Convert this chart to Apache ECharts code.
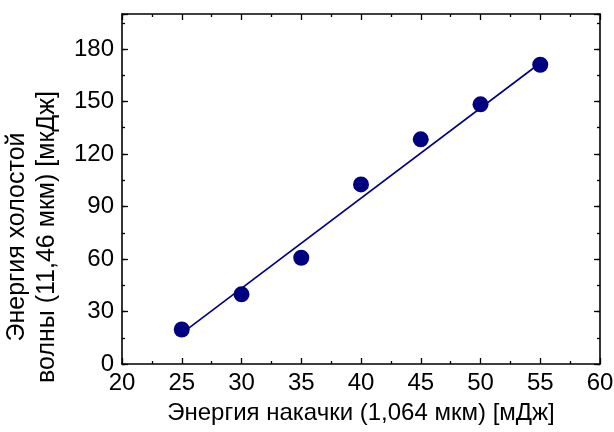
<!DOCTYPE html>
<html>
<head>
<meta charset="utf-8">
<script src="https://cdn.jsdelivr.net/npm/echarts@6/dist/echarts.min.js"></script>
<style>html,body{margin:0;padding:0;background:#fff;}#c{width:614px;height:432px;}</style>
</head>
<body>
<div id="c"></div>
<script>
var pumpEnergy = [25, 30, 35, 40, 45, 50, 55];
var idlerEnergy = [19.7, 39.8, 60.7, 102.6, 128.4, 148.4, 171];
var fitX = [25, 55];
var fitY = [17.5, 172];
var xTitle = 'Энергия накачки (1,064 мкм) [мДж]';
var yTitle = 'Энергия холостой\nволны (11,46 мкм) [мкДж]';

var FONT = 'Liberation Sans, Arial, sans-serif';
var C = '#000080';
var chart = echarts.init(document.getElementById('c'), null, {renderer: 'canvas'});

function xAx(pos, showLabel, name) {
  return {
    type: 'value', position: pos, min: 20, max: 60, interval: 5,
    gridIndex: 0,
    axisLine: {show: true, onZero: false, lineStyle: {color: '#000', width: 1.6}},
    axisTick: {show: true, inside: true, length: 6, lineStyle: {color: '#000', width: 1.3}},
    minorTick: {show: true, splitNumber: 2, length: 3, lineStyle: {color: '#000', width: 1.3}},
    splitLine: {show: false},
    axisLabel: {show: showLabel, color: '#000', fontSize: 24, fontFamily: FONT, margin: 7},
    name: name || '', nameLocation: 'middle', nameGap: 37,
    nameTextStyle: {color: '#000', fontSize: 24, fontFamily: FONT}
  };
}
function yAx(pos, interval, len, showLabel, showLine, name) {
  return {
    type: 'value', position: pos, min: 0, max: 200, interval: interval,
    gridIndex: 0,
    axisLine: {show: showLine, onZero: false, lineStyle: {color: '#000', width: 1.6}},
    axisTick: {show: true, inside: true, length: len, lineStyle: {color: '#000', width: 1.3}},
    splitLine: {show: false},
    axisLabel: {show: showLabel, color: '#000', fontSize: 24, fontFamily: FONT, margin: 8,
      formatter: function (v) { return v > 180 ? '' : String(v); }},
    name: name || '', nameLocation: 'middle', nameGap: 60, nameRotate: 90,
    nameTextStyle: {color: '#000', fontSize: 25, fontFamily: FONT, lineHeight: 30, align: 'center',
      padding: name ? [0, 96, 0, 0] : 0}
  };
}

chart.setOption({
  animation: false,
  backgroundColor: '#fff',
  grid: {left: 122, right: 14, top: 14, bottom: 68, containLabel: false, outerBoundsMode: 'none'},
  xAxis: [xAx('bottom', true, xTitle), xAx('top', false)],
  yAxis: [
    yAx('left', 30, 6, true, true, yTitle),
    yAx('left', 15, 3, false, false),
    yAx('right', 30, 6, false, true),
    yAx('right', 15, 3, false, false)
  ],
  series: [
    {
      type: 'line', xAxisIndex: 0, yAxisIndex: 0,
      data: fitX.map(function (x, i) { return [x, fitY[i]]; }),
      showSymbol: false, symbol: 'none',
      lineStyle: {color: C, width: 1.6}, z: 2, silent: true
    },
    {
      type: 'scatter', xAxisIndex: 0, yAxisIndex: 0,
      data: pumpEnergy.map(function (x, i) { return [x, idlerEnergy[i]]; }),
      symbol: 'circle', symbolSize: 16,
      itemStyle: {color: C, opacity: 1}, z: 3
    }
  ]
});
</script>
</body>
</html>
